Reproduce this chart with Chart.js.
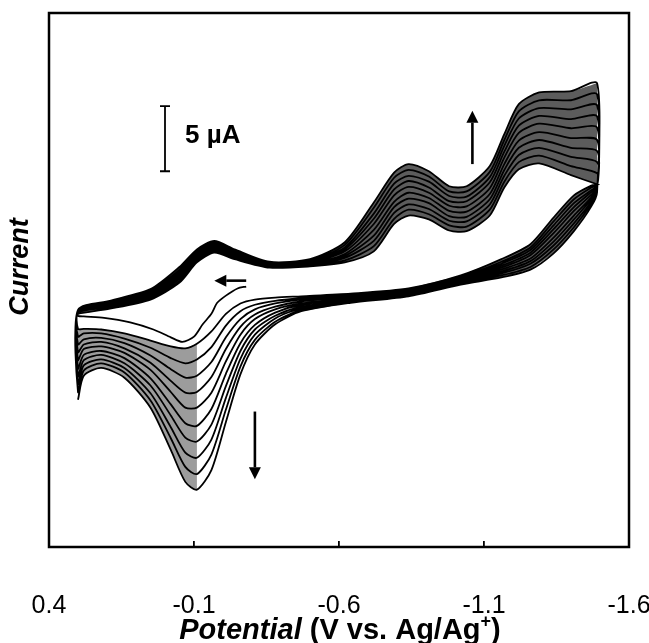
<!DOCTYPE html>
<html><head><meta charset="utf-8">
<script src="https://cdn.jsdelivr.net/npm/chart.js@4.4.1/dist/chart.umd.min.js"></script>
<style>html,body{margin:0;padding:0;background:#fff}</style>
</head><body>
<canvas id="c" width="649" height="643"></canvas>
<script>
// ---- data (potential in V vs Ag/Ag+, current in microamps) ----
const potentialTicks = [0.4, -0.1, -0.6, -1.1, -1.6];

// initial partial scan (start at about -0.28 V, going anodic)
const scan0E = [-0.28, -0.25, -0.21, -0.18, -0.16, -0.13, -0.10, -0.06, -0.02, 0.04, 0.12, 0.21, 0.28, 0.30];
const scan0I = [1.0, 0.85, 0.3, -0.25, -1.1, -1.9, -2.85, -3.25, -2.9, -2.3, -1.75, -1.4, -1.3, -1.25];

// forward (cathodic) branch potentials
const upperE = [0.30, 0.19, 0.05, -0.05, -0.11, -0.17, -0.24, -0.36, -0.50, -0.62, -0.72, -0.79, -0.84, -0.91, -0.98, -1.04, -1.12, -1.17, -1.22, -1.29, -1.40, -1.49];
// reverse (anodic) branch potentials
const lowerE = [-1.49, -1.47, -1.41, -1.34, -1.26, -1.16, -1.02, -0.84, -0.64, -0.47, -0.38, -0.31, -0.26, -0.21, -0.16, -0.11, -0.07, -0.02, 0.05, 0.14, 0.22, 0.28, 0.30];

const up1  = [-1.1, -0.7, 0.0, 1.3, 2.85, 3.6, 3.1, 2.45, 2.55, 2.85, 3.7, 5.8, 6.45, 6.15, 5.3, 5.25, 6.45, 8.6, 10.0, 10.45, 9.55, 8.85];
const up2  = [-1.0, -0.6, 0.1, 1.4, 2.95, 3.7, 3.15, 2.5, 2.6, 3.0, 4.1, 6.2, 6.9, 6.55, 5.7, 5.6, 6.9, 9.05, 10.55, 11.05, 10.25, 9.7];
const up3  = [-1.0, -0.6, 0.2, 1.6, 3.1, 3.8, 3.25, 2.55, 2.65, 3.2, 4.5, 6.65, 7.3, 6.95, 6.05, 6.0, 7.3, 9.5, 11.1, 11.65, 10.95, 10.55];
const up4  = [-1.0, -0.5, 0.25, 1.7, 3.2, 3.9, 3.35, 2.6, 2.7, 3.35, 4.9, 7.1, 7.75, 7.4, 6.4, 6.35, 7.7, 9.95, 11.65, 12.25, 11.65, 11.4];
const up5  = [-0.9, -0.4, 0.35, 1.8, 3.3, 4.0, 3.4, 2.65, 2.8, 3.5, 5.35, 7.5, 8.2, 7.8, 6.8, 6.75, 8.1, 10.4, 12.2, 12.85, 12.4, 12.25];
const up6  = [-0.9, -0.35, 0.45, 1.95, 3.4, 4.1, 3.5, 2.7, 2.85, 3.7, 5.8, 8.0, 8.65, 8.2, 7.2, 7.15, 8.55, 10.9, 12.8, 13.5, 13.15, 13.2];
const up7  = [-0.9, -0.3, 0.5, 2.1, 3.5, 4.2, 3.6, 2.75, 2.9, 3.85, 6.2, 8.45, 9.1, 8.6, 7.55, 7.55, 9.0, 11.35, 13.35, 14.1, 13.85, 14.05];
const up8  = [-0.8, -0.2, 0.6, 2.2, 3.6, 4.3, 3.7, 2.8, 2.95, 4.0, 6.6, 8.9, 9.5, 9.05, 7.95, 7.9, 9.4, 11.8, 13.9, 14.7, 14.6, 14.9];
const up9  = [-0.8, -0.15, 0.7, 2.3, 3.75, 4.4, 3.8, 2.85, 3.0, 4.2, 7.05, 9.35, 9.95, 9.45, 8.3, 8.3, 9.8, 12.25, 14.45, 15.3, 15.3, 15.75];
const up10 = [-0.8, -0.1, 0.8, 2.5, 3.85, 4.5, 3.85, 2.9, 3.1, 4.4, 7.45, 9.75, 10.4, 9.85, 8.7, 8.7, 10.25, 12.7, 15.0, 15.9, 16.0, 16.6];

const dn1  = [8.85, 8.75, 8.0, 6.3, 4.25, 3.1, 1.85, 0.85, 0.45, 0.25, 0.15, 0, -0.3, -1.1, -2.45, -3.4, -3.75, -3.6, -3.15, -2.6, -2.3, -2.25, -2.25];
const dn2  = [8.8, 8.6, 7.7, 6.0, 4.0, 2.9, 1.75, 0.8, 0.4, 0.1, -0.1, -0.4, -0.9, -2.0, -3.65, -4.6, -4.9, -4.5, -3.7, -3.0, -2.6, -2.6, -2.85];
const dn3  = [8.7, 8.4, 7.4, 5.7, 3.8, 2.75, 1.7, 0.7, 0.3, 0.0, -0.3, -0.75, -1.5, -2.9, -4.8, -5.85, -6.0, -5.35, -4.3, -3.35, -2.95, -3.05, -3.45];
const dn4  = [8.65, 8.25, 7.1, 5.4, 3.6, 2.6, 1.6, 0.65, 0.25, -0.15, -0.55, -1.15, -2.1, -3.8, -5.95, -7.1, -7.15, -6.25, -4.85, -3.75, -3.25, -3.45, -4.05];
const dn5  = [8.6, 8.05, 6.8, 5.1, 3.4, 2.45, 1.55, 0.6, 0.15, -0.3, -0.75, -1.5, -2.7, -4.75, -7.15, -8.3, -8.3, -7.1, -5.4, -4.1, -3.6, -3.8, -4.65];
const dn6  = [8.5, 7.85, 6.45, 4.75, 3.15, 2.3, 1.45, 0.5, 0.05, -0.4, -1.0, -1.95, -3.35, -5.7, -8.4, -9.7, -9.5, -8.05, -6.05, -4.5, -3.95, -4.25, -5.3];
const dn7  = [8.45, 7.7, 6.15, 4.45, 2.95, 2.15, 1.4, 0.45, 0.0, -0.55, -1.25, -2.3, -3.95, -6.65, -9.6, -10.9, -10.6, -8.9, -6.6, -4.9, -4.25, -4.65, -5.9];
const dn8  = [8.4, 7.5, 5.85, 4.15, 2.75, 2.0, 1.3, 0.4, -0.1, -0.65, -1.45, -2.7, -4.55, -7.55, -10.75, -12.15, -11.75, -9.8, -7.2, -5.25, -4.6, -5.05, -6.5];
const dn9  = [8.3, 7.35, 5.55, 3.85, 2.5, 1.85, 1.25, 0.3, -0.15, -0.8, -1.7, -3.1, -5.15, -8.45, -11.9, -13.4, -12.85, -10.65, -7.75, -5.6, -4.9, -5.45, -7.1];
const dn10 = [8.25, 7.15, 5.25, 3.55, 2.3, 1.7, 1.15, 0.25, -0.25, -0.9, -1.9, -3.45, -5.75, -9.4, -13.1, -14.6, -14.0, -11.55, -8.3, -6.0, -5.25, -5.85, -7.7];

const cyclesUp = [up1, up2, up3, up4, up5, up6, up7, up8, up9, up10];
const cyclesDown = [dn1, dn2, dn3, dn4, dn5, dn6, dn7, dn8, dn9, dn10];

// build the continuous CV trace
const trace = [];
scan0E.forEach((e, i) => trace.push({x: e, y: scan0I[i]}));
cyclesUp.forEach((u, k) => {
  upperE.forEach((e, i) => trace.push({x: e, y: u[i]}));
  lowerE.forEach((e, i) => trace.push({x: e, y: cyclesDown[k][i]}));
});
const toPts = (es, ys, from, to) => es.slice(from, to).map((e, i) => ({x: e, y: ys[from + i]}));

// ---- annotations (in data units) ----
const scaleBar = {x: 0.0, y0: 9.85, y1: 14.85, label: '5 \u00B5A'};
const arrows = [
  {x0: -1.06, y0: 10.4, x1: -1.06, y1: 14.5},   // up
  {x0: -0.31, y0: -8.6, x1: -0.31, y1: -13.8},  // down
  {x0: -0.28, y0: 1.45, x1: -0.17, y1: 1.45}    // left
];

const FONT = "'Liberation Sans', Arial, Helvetica, sans-serif";

const decor = {
  id: 'decor',
  afterDraw(chart) {
    const ctx = chart.ctx, a = chart.chartArea;
    const xs = chart.scales.x, ys = chart.scales.y;

    // shade the dense reverse-sweep band (first to last cycle) on the cathodic side
    ctx.save();
    ctx.beginPath(); ctx.rect(a.left, a.top, a.right - a.left, a.bottom - a.top); ctx.clip();
    ctx.globalCompositeOperation = 'multiply';
    ctx.beginPath();
    const nBand = 10;
    for (let i = 0; i < nBand; i++) {
      const px = xs.getPixelForValue(lowerE[i]), py = ys.getPixelForValue(dn1[i]);
      if (i === 0) ctx.moveTo(px, py); else ctx.lineTo(px, py);
    }
    for (let i = nBand - 1; i >= 0; i--) {
      ctx.lineTo(xs.getPixelForValue(lowerE[i]), ys.getPixelForValue(dn10[i]));
    }
    ctx.closePath();
    ctx.fillStyle = '#5c5c5c';
    ctx.fill();
    ctx.restore();

    ctx.save();
    // frame
    ctx.strokeStyle = '#000'; ctx.lineWidth = 2.5;
    ctx.strokeRect(a.left, a.top, a.right - a.left, a.bottom - a.top);

    // scale bar
    const bx = xs.getPixelForValue(scaleBar.x);
    const by0 = ys.getPixelForValue(scaleBar.y0), by1 = ys.getPixelForValue(scaleBar.y1);
    ctx.lineWidth = 1.8;
    ctx.beginPath();
    ctx.moveTo(bx, by0); ctx.lineTo(bx, by1);
    ctx.moveTo(bx - 5, by0); ctx.lineTo(bx + 5, by0);
    ctx.moveTo(bx - 5, by1); ctx.lineTo(bx + 5, by1);
    ctx.stroke();
    ctx.fillStyle = '#000';
    ctx.font = 'bold 26px ' + FONT;
    ctx.textAlign = 'left'; ctx.textBaseline = 'alphabetic';
    ctx.fillText(scaleBar.label, bx + 20, (by0 + by1) / 2 + 4);

    // arrows
    arrows.forEach(ar => {
      const x0 = xs.getPixelForValue(ar.x0), y0 = ys.getPixelForValue(ar.y0);
      const x1 = xs.getPixelForValue(ar.x1), y1 = ys.getPixelForValue(ar.y1);
      const ang = Math.atan2(y1 - y0, x1 - x0);
      const hl = 12, hw = 6;
      const bxp = x1 - hl * Math.cos(ang), byp = y1 - hl * Math.sin(ang);
      ctx.lineWidth = 2.6;
      ctx.beginPath(); ctx.moveTo(x0, y0); ctx.lineTo(bxp, byp); ctx.stroke();
      ctx.beginPath();
      ctx.moveTo(x1, y1);
      ctx.lineTo(bxp + hw * Math.sin(ang), byp - hw * Math.cos(ang));
      ctx.lineTo(bxp - hw * Math.sin(ang), byp + hw * Math.cos(ang));
      ctx.closePath(); ctx.fill();
    });

    // y title
    ctx.save();
    ctx.translate(21, 267);
    ctx.rotate(-Math.PI / 2);
    ctx.font = 'italic bold 27px ' + FONT;
    ctx.textAlign = 'center'; ctx.textBaseline = 'middle';
    ctx.fillText('Current', 0, 0);
    ctx.restore();

    // x title: "Potential (V vs. Ag/Ag+)"
    const parts = [
      {t: 'Potential', f: 'italic bold 29px ' + FONT, dy: 0},
      {t: ' (V vs. Ag/Ag', f: 'bold 29px ' + FONT, dy: 0},
      {t: '+', f: 'bold 18px ' + FONT, dy: -12},
      {t: ')', f: 'bold 29px ' + FONT, dy: 0}
    ];
    let total = 0;
    parts.forEach(p => { ctx.font = p.f; p.w = ctx.measureText(p.t).width; total += p.w; });
    let x = 340 - total / 2;
    ctx.textAlign = 'left'; ctx.textBaseline = 'alphabetic';
    parts.forEach(p => { ctx.font = p.f; ctx.fillText(p.t, x, 639 + p.dy); x += p.w; });
    ctx.restore();
  }
};

const TENSION = 0.25;
const edge = (data) => ({data, showLine: true, borderColor: 'rgba(0,0,0,0)', borderWidth: 1,
  pointRadius: 0, tension: TENSION, fill: false});
const band = (data, color) => ({data, showLine: true, borderColor: 'rgba(0,0,0,0)', borderWidth: 1,
  pointRadius: 0, tension: TENSION, fill: '-1', backgroundColor: color});

new Chart(document.getElementById('c'), {
  type: 'scatter',
  data: {
    datasets: [
      { // all recorded cycles, continuous trace (drawn on top)
        data: trace, showLine: true, borderColor: '#000', borderWidth: 1.8,
        pointRadius: 0, tension: TENSION, fill: false
      },
      // shading of the dense bands of unresolved cycles, between first and last cycle
      edge(toPts(upperE, up1, 0, upperE.length)),
      band(toPts(upperE, up10, 0, upperE.length), '#5c5c5c'),
      edge(toPts(lowerE, dn1, 15, lowerE.length)),
      band(toPts(lowerE, dn10, 15, lowerE.length), '#9c9c9c')
    ]
  },
  options: {
    responsive: false,
    animation: false,
    events: [],
    layout: {padding: {top: 13, right: 20, left: 0, bottom: 0}},
    plugins: {legend: {display: false}, tooltip: {enabled: false}},
    scales: {
      x: {
        type: 'linear', position: 'bottom', reverse: true, min: -1.6, max: 0.4,
        afterBuildTicks: s => { s.ticks = potentialTicks.map(v => ({value: v})); },
        afterFit: s => { s.height = 96; s.paddingLeft = 0; s.paddingRight = 0; },
        ticks: {
          callback: v => Number(v).toFixed(1),
          color: '#000', font: {family: FONT, size: 25}, padding: 50,
          autoSkip: false, maxRotation: 0
        },
        grid: {drawOnChartArea: false, drawTicks: true, tickLength: -6, color: '#000', lineWidth: 1.8},
        border: {display: false},
        title: {display: false}
      },
      y: {
        type: 'linear', position: 'left', min: -19, max: 22,
        afterFit: s => { s.width = 49; },
        ticks: {display: false},
        grid: {display: false},
        border: {display: false},
        title: {display: false}
      }
    }
  },
  plugins: [decor]
});
</script>
</body></html>
